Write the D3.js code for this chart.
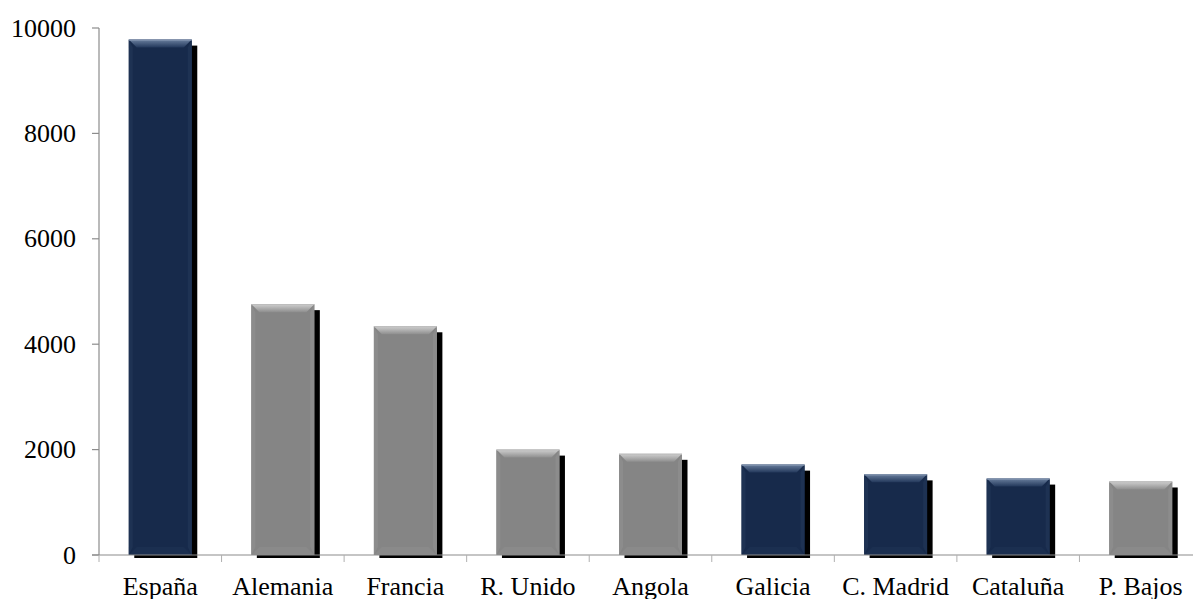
<!DOCTYPE html>
<html>
<head>
<meta charset="utf-8">
<script src="https://cdn.jsdelivr.net/npm/d3@7"></script>
<style>
  html, body { margin: 0; padding: 0; background: #fff; }
  svg { display: block; }
</style>
</head>
<body>
<svg id="chart" width="1193" height="599"></svg>
<script>
// Categories, values and colour group (navy = Spain / Spanish regions, grey = countries)
const categories = ["España", "Alemania", "Francia", "R. Unido", "Angola", "Galicia", "C. Madrid", "Cataluña", "P. Bajos"];
const values = [9780, 4760, 4340, 2000, 1920, 1715, 1530, 1450, 1395];
const groups = ["es", "ot", "ot", "ot", "ot", "es", "es", "es", "ot"];
const yTicks = [0, 2000, 4000, 6000, 8000, 10000];

const svg = d3.select("#chart");
const plotLeft = 99, plotRight = 1202, plotTop = 28, plotBottom = 555;

const x = d3.scaleBand().domain(categories).range([plotLeft, plotRight])
  .paddingInner(0.486).paddingOuter(0.243);
const y = d3.scaleLinear().domain([0, 10000]).range([plotBottom, plotTop]);

const palette = {
  es: { base: "#172a4b", topHi: "#6a7f9e", topLo: "#22375a", side: "#1e3253", bot: "#1b2f50", edge: "#8a9bb5" },
  ot: { base: "#858585", topHi: "#d0d0d0", topLo: "#8e8e8e", side: "#8c8c8c", bot: "#8a8a8a", edge: "#bdbdbd" }
};

const defs = svg.append("defs");
Object.entries(palette).forEach(([k, p]) => {
  const g = defs.append("linearGradient").attr("id", "top-" + k)
    .attr("x1", 0).attr("y1", 0).attr("x2", 0).attr("y2", 1);
  g.append("stop").attr("offset", "0%").attr("stop-color", p.topHi);
  g.append("stop").attr("offset", "100%").attr("stop-color", p.topLo);
});

const font = "'Liberation Serif', 'Times New Roman', serif";

// y axis line
svg.append("line").attr("x1", plotLeft).attr("x2", plotLeft).attr("y1", plotTop).attr("y2", plotBottom)
  .attr("stroke", "#8c8c8c").attr("stroke-width", 1.2);

// y ticks and labels
const yAxis = svg.append("g");
yTicks.forEach(t => {
  yAxis.append("line").attr("x1", plotLeft - 7).attr("x2", plotLeft).attr("y1", y(t)).attr("y2", y(t))
    .attr("stroke", "#8c8c8c").attr("stroke-width", 1.2);
  yAxis.append("text").attr("x", 76).attr("y", y(t)).attr("dy", "0.33em")
    .attr("text-anchor", "end").attr("font-family", font).attr("font-size", 26)
    .attr("fill", "#000").text(t);
});

// Bars with drop shadow and bevel
const bw = x.bandwidth();
const bars = svg.append("g");
categories.forEach((c, i) => {
  const p = palette[groups[i]];
  const x0 = x(c), y0 = y(values[i]), x1 = x0 + bw, y1 = y(0);
  const g = bars.append("g");
  // shadow
  g.append("rect").attr("x", x0 + 5.5).attr("y", y0 + 6).attr("width", bw).attr("height", y1 + 3 - (y0 + 6))
    .attr("fill", "#000");
  // body
  g.append("rect").attr("x", x0).attr("y", y0).attr("width", bw).attr("height", y1 - y0).attr("fill", p.base);
  const bv = 8, sv = 4;
  // top bevel
  g.append("polygon").attr("points", [[x0, y0], [x1, y0], [x1 - bv, y0 + bv], [x0 + bv, y0 + bv]].join(" "))
    .attr("fill", `url(#top-${groups[i]})`);
  // side bevels
  g.append("polygon").attr("points", [[x0, y0], [x0 + sv, y0 + bv], [x0 + sv, y1 - bv], [x0, y1]].join(" "))
    .attr("fill", p.side);
  g.append("polygon").attr("points", [[x1, y0], [x1 - sv, y0 + bv], [x1 - sv, y1 - bv], [x1, y1]].join(" "))
    .attr("fill", p.side);
  // bottom bevel
  g.append("polygon").attr("points", [[x0, y1], [x1, y1], [x1 - bv, y1 - bv], [x0 + bv, y1 - bv]].join(" "))
    .attr("fill", p.bot);
  // top edge highlight
  g.append("line").attr("x1", x0).attr("x2", x1).attr("y1", y0 + 0.5).attr("y2", y0 + 0.5)
    .attr("stroke", p.edge).attr("stroke-width", 1);
});

// x axis line and ticks
svg.append("line").attr("x1", plotLeft - 7).attr("x2", 1193).attr("y1", plotBottom).attr("y2", plotBottom)
  .attr("stroke", "#8c8c8c").attr("stroke-width", 1.2);
const step = x.step();
d3.range(categories.length + 1).forEach(k => {
  const tx = plotLeft + k * step;
  svg.append("line").attr("x1", tx).attr("x2", tx).attr("y1", plotBottom).attr("y2", plotBottom + 7)
    .attr("stroke", "#b0b0b0").attr("stroke-width", 1);
});

// category labels
categories.forEach(c => {
  svg.append("text").attr("x", x(c) + bw / 2).attr("y", 595)
    .attr("text-anchor", "middle").attr("font-family", font).attr("font-size", 26)
    .attr("fill", "#000").text(c);
});
</script>
</body>
</html>
